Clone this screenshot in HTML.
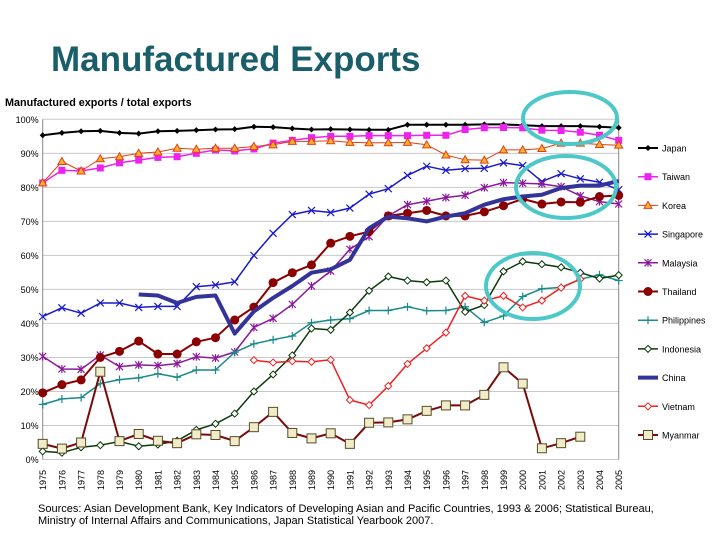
<!DOCTYPE html>
<html><head><meta charset="utf-8"><style>
body{margin:0;background:#fff;font-family:"Liberation Sans",sans-serif}
svg text{font-family:"Liberation Sans",sans-serif}
</style></head><body>
<svg id="chart" width="720" height="540" xmlns="http://www.w3.org/2000/svg">
<text x="51" y="71" font-size="35" font-weight="bold" fill="#1a5e6a">Manufactured Exports</text>
<text x="5" y="106" font-size="10.8" font-weight="bold" fill="#000">Manufactured exports / total exports</text>
<g id="grid"></g><g id="series"></g><g id="legend"></g>
<text x="38" y="512" font-size="11" fill="#000">Sources: Asian Development Bank, Key Indicators of Developing Asian and Pacific Countries, 1993 &amp; 2006; Statistical Bureau,</text>
<text x="38" y="524" font-size="11" fill="#000">Ministry of Internal Affairs and Communications, Japan Statistical Yearbook 2007.</text>
<ellipse cx="570" cy="118" rx="47" ry="26" fill="none" stroke="#4cc8c8" stroke-width="4"/>
<ellipse cx="566" cy="187" rx="50" ry="31" fill="none" stroke="#4cc8c8" stroke-width="4"/>
<ellipse cx="533" cy="286" rx="47" ry="33" fill="none" stroke="#4cc8c8" stroke-width="4"/>
</svg>
<script>
const years=[1975,1976,1977,1978,1979,1980,1981,1982,1983,1984,1985,1986,1987,1988,1989,1990,1991,1992,1993,1994,1995,1996,1997,1998,1999,2000,2001,2002,2003,2004,2005];
const yTicks=[0,10,20,30,40,50,60,70,80,90,100];
const japan=[95.3,96,96.5,96.6,96,95.8,96.5,96.6,96.8,97,97.1,97.8,97.7,97.3,97,97.1,97,96.9,96.9,98.4,98.4,98.4,98.4,98.5,98.5,98.3,98,98,98,97.8,97.5];
const taiwan=[81.3,85,84.8,85.7,87.2,88,88.8,89,90,91,90.7,91.3,93,93.8,94.6,95,95,95.2,95.2,95.2,95.3,95.3,97,97.5,97.6,97.5,96.8,96.7,96.2,95.3,93.8];
const korea=[81.3,87.6,84.8,88.4,89,90,90.4,91.5,91.2,91.5,91.5,92,92.5,93.5,93.5,93.7,93.2,93.1,93.1,93.2,92.5,89.5,88.1,88,91,91,91.4,93,93,92.6,92.4];
const singapore=[42,44.6,43,46,46,44.7,45,45,50.8,51.3,52.2,60,66.5,72,73.2,72.6,73.9,78,79.6,83.5,86.2,85,85.5,85.6,87.2,86.4,81.7,84,82.5,81.5,79.3];
const malaysia=[30.3,26.6,26.5,30.7,27.3,27.8,27.6,28.2,30.2,29.8,31.6,38.8,41.5,45.6,51,55.4,61.8,65.5,71.6,74.9,75.9,77,77.7,79.9,81.4,81.2,81,80.2,77.5,75.8,75.1];
const thailand=[19.6,22,23.4,30,31.8,34.8,31,31,34.6,35.8,41,44.8,52,54.9,57.2,63.6,65.6,67,71.6,72.4,73.2,71.6,71.6,72.8,74.6,76.6,75.1,75.7,75.6,77.3,77.6];
const philippines=[16.2,17.8,18.2,22.3,23.5,24,25.2,24.2,26.3,26.3,31.5,34,35.2,36.3,40.2,41,41.4,43.8,43.8,44.9,43.7,43.8,44.9,40.3,42.2,47.9,50.2,50.6,53,54.3,52.6];
const indonesia=[2.4,2,3.6,4.2,5.3,3.9,4.4,5.5,8.7,10.5,13.5,20,25,30.6,38.5,38.1,43.2,49.6,53.8,52.6,52.1,52.6,43.4,45.4,55.3,58.2,57.4,56.5,54.9,53.2,54.2];
const china=[null,null,null,null,null,48.5,48.2,46,47.8,48.2,37,43.5,47.5,51,54.9,55.9,58.7,68,71.4,70.9,70,71.4,72.4,74.9,76.5,77.3,77.8,79.8,80.5,80.5,81.9];
const vietnam=[null,null,null,null,null,null,null,null,null,null,null,29.2,28.5,28.9,28.7,29.3,17.5,16,21.6,28.1,32.7,37.3,48.1,46.7,48.1,44.7,46.7,50.5,53,null,null];
const myanmar=[4.6,3.2,5,25.8,5.4,7.5,5.5,4.8,7.4,7.2,5.4,9.5,14,7.8,6.2,7.7,4.6,10.8,10.9,11.8,14.3,15.9,15.9,19,27.1,22.3,3.3,4.8,6.7,null,null];

const NS='http://www.w3.org/2000/svg';
const X0=42.7,X1=618.7,Y0=459.5,Y1=119.3;
const xs=y=>X0+(y-years[0])*(X1-X0)/(years[years.length-1]-years[0]);
const ys=v=>Y0-v*(Y0-Y1)/100;
function mk(tag,attrs,parent){const e=document.createElementNS(NS,tag);for(const k in attrs)e.setAttribute(k,attrs[k]);parent.appendChild(e);return e;}
const grid=document.getElementById('grid');
yTicks.forEach(t=>{
  const l=mk('line',{x1:X0,x2:X1,y1:ys(t),y2:ys(t),stroke:'#c8c8c8','stroke-width':1},grid);
  
  
  const tx=mk('text',{x:X0-4,y:ys(t)+3.5,'font-size':9,'text-anchor':'end',fill:'#000'},grid);
  tx.textContent=t+'%';
  
  
});
const ax=mk('line',{x1:X0,x2:X0,y1:Y1,y2:Y0,stroke:'#888'},grid);


const rx=mk('line',{x1:X1,x2:X1,y1:Y1,y2:Y0,stroke:'#888'},grid);


years.forEach(y=>{
  const t=mk('text',{transform:`translate(${xs(y)+3.5},490) rotate(-90)`,'font-size':9,fill:'#000'},grid);
  t.textContent=y;
  
  
});
const seriesDefs=[
 ['Japan',japan,'#000','diamond-fill',2],
 ['Taiwan',taiwan,'#ee22ee','square-fill',1.5],
 ['Korea',korea,'#e04010','triangle',1],
 ['Singapore',singapore,'#1a1acc','x',1.5],
 ['Malaysia',malaysia,'#8a1a9a','star',1.5],
 ['Thailand',thailand,'#8b0000','circle',2],
 ['Philippines',philippines,'#1a8a8a','plus',1.5],
 ['Indonesia',indonesia,'#0a3a0a','diamond-open',1.5],
 ['China',china,'#333399','none',4],
 ['Vietnam',vietnam,'#ee2222','diamond-open-red',1.5],
 ['Myanmar',myanmar,'#7a0a0a','square-open',2]
];
function marker(type,x,y,c,g){
  if(type==='diamond-fill')mk('path',{d:`M${x} ${y-3}L${x+3} ${y}L${x} ${y+3}L${x-3} ${y}Z`,fill:c},g);
  else if(type==='square-fill')mk('rect',{x:x-3.5,y:y-3.5,width:7,height:7,fill:c},g);
  else if(type==='triangle')mk('path',{d:`M${x} ${y-4}L${x+4} ${y+3}L${x-4} ${y+3}Z`,fill:'#ffb030',stroke:'#e04010','stroke-width':1},g);
  else if(type==='x')mk('path',{d:`M${x-3.5} ${y-3.5}L${x+3.5} ${y+3.5}M${x-3.5} ${y+3.5}L${x+3.5} ${y-3.5}`,stroke:c,'stroke-width':1.2},g);
  else if(type==='star')mk('path',{d:`M${x-3.5} ${y-3.5}L${x+3.5} ${y+3.5}M${x-3.5} ${y+3.5}L${x+3.5} ${y-3.5}M${x} ${y-4}L${x} ${y+4}`,stroke:c,'stroke-width':1.2},g);
  else if(type==='circle')mk('circle',{cx:x,cy:y,r:4.5,fill:c},g);
  else if(type==='plus')mk('path',{d:`M${x-4} ${y}L${x+4} ${y}M${x} ${y-4}L${x} ${y+4}`,stroke:c,'stroke-width':1.2},g);
  else if(type==='diamond-open'||type==='diamond-open-red')mk('path',{d:`M${x} ${y-3.5}L${x+3.5} ${y}L${x} ${y+3.5}L${x-3.5} ${y}Z`,fill:'#fff',stroke:c,'stroke-width':1},g);
  else if(type==='square-open')mk('rect',{x:x-4.5,y:y-4.5,width:9,height:9,fill:'#f0ecc8',stroke:'#5a4a2a','stroke-width':1},g);
}
const sg=document.getElementById('series'),lg=document.getElementById('legend');
seriesDefs.forEach((s,i)=>{
  const [name,vals,c,m,w]=s;
  const g=mk('g',{},sg);
  
  
  let d='',pen=false;
  vals.forEach((v,j)=>{if(v==null){pen=false;return;}d+=(pen?'L':'M')+xs(years[j]).toFixed(1)+' '+ys(v).toFixed(1);pen=true;});
  mk('path',{d:d,fill:'none',stroke:c,'stroke-width':w,'stroke-linejoin':'round'},g);
  vals.forEach((v,j)=>{if(v!=null&&m!=='none')marker(m,xs(years[j]),ys(v),c,g);});
  const ly=148+i*28.7;
  const le=mk('g',{},lg);
  
  
  mk('line',{x1:638,x2:658,y1:ly,y2:ly,stroke:c,'stroke-width':w},le);
  if(m!=='none')marker(m,648,ly,c,le);
  const t=mk('text',{x:662,y:ly+3.5,'font-size':9,fill:'#000'},le);
  t.textContent=name;
});
</script>
</body></html>
